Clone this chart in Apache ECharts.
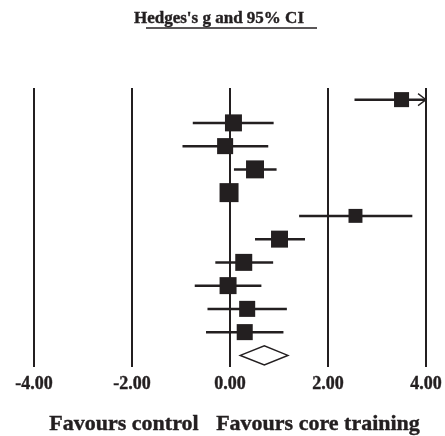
<!DOCTYPE html>
<html>
<head>
<meta charset="utf-8">
<script src="https://cdn.jsdelivr.net/npm/echarts@6/dist/echarts.min.js"></script>
<style>
  html, body { margin: 0; padding: 0; background: #fff; }
  #chart { width: 445px; height: 436px; }
</style>
</head>
<body>
<div id="chart"></div>
<script>
// ===== 数据 =====
const studyNames = ['Study 1', 'Study 2', 'Study 3', 'Study 4', 'Study 5', 'Study 6',
  'Study 7', 'Study 8', 'Study 9', 'Study 10', 'Study 11', 'Overall'];
const hedgesG = [3.50, 0.07, -0.10, 0.51, -0.02, 2.56, 1.01, 0.28, -0.04, 0.35, 0.30];
const ciLower = [2.54, -0.76, -0.97, 0.08, -0.18, 1.41, 0.51, -0.30, -0.72, -0.46, -0.49];
const ciUpper = [4.46, 0.89, 0.78, 0.95, 0.14, 3.72, 1.53, 0.88, 0.64, 1.16, 1.09];
const weights = [7.2, 9.2, 8.2, 10.3, 11.5, 6.2, 9.2, 9.2, 9.2, 8.2, 8.2];
const pooled = { g: 0.70, lower: 0.21, upper: 1.18 };
const xTicks = [-4, -2, 0, 2, 4];

const X_MIN = -4, X_MAX = 4;
const ink = '#231f20';
const serif = '"Liberation Serif", "DejaVu Serif", serif';

const chart = echarts.init(document.getElementById('chart'));

// 每个研究一行：[g, lower, upper, weight, rowIndex]
const studyData = hedgesG.map((g, i) => [g, ciLower[i], ciUpper[i], weights[i], i]);

function renderStudy(params, api) {
  const g = api.value(0);
  const lo = api.value(1);
  const hi = api.value(2);
  const w = api.value(3);
  const row = api.value(4);
  const left = api.coord([Math.max(lo, X_MIN), row]);
  const right = api.coord([Math.min(hi, X_MAX), row]);
  const mid = api.coord([g, row]);
  const side = 5.6 * Math.sqrt(w);
  const children = [{
    type: 'line',
    shape: { x1: left[0], y1: left[1], x2: right[0], y2: right[1] },
    style: { stroke: ink, lineWidth: 2.5 }
  }, {
    type: 'rect',
    shape: { x: mid[0] - side / 2, y: mid[1] - side / 2, width: side, height: side },
    style: { fill: ink }
  }];
  if (hi > X_MAX) {
    // 超出范围 -> 箭头
    children.push({
      type: 'polyline',
      shape: { points: [[right[0] - 8, right[1] - 6], [right[0], right[1]], [right[0] - 8, right[1] + 6]] },
      style: { stroke: ink, lineWidth: 1.3, fill: null }
    });
  }
  return { type: 'group', children: children };
}

function renderDiamond(params, api) {
  const row = api.value(3);
  const l = api.coord([api.value(1), row]);
  const c = api.coord([api.value(0), row]);
  const r = api.coord([api.value(2), row]);
  const h = 9.5;
  return {
    type: 'polygon',
    shape: { points: [[l[0], l[1]], [c[0], c[1] - h], [r[0], r[1]], [c[0], c[1] + h]] },
    style: { fill: '#fff', stroke: ink, lineWidth: 1.5 }
  };
}

chart.setOption({
  animation: false,
  backgroundColor: '#fff',
  grid: { left: 34, right: 18, top: 88, bottom: 69 },
  xAxis: {
    type: 'value',
    min: X_MIN,
    max: X_MAX,
    interval: 2,
    axisLine: { show: false },
    axisTick: { show: false },
    axisLabel: {
      margin: 8,
      color: ink,
      fontFamily: serif,
      fontWeight: 'bold',
      fontSize: 18,
      textBorderColor: ink,
      textBorderWidth: 0.4,
      formatter: v => (xTicks.indexOf(v) >= 0 ? v.toFixed(2) : '')
    },
    splitLine: { show: true, lineStyle: { color: ink, width: 2 } }
  },
  yAxis: {
    type: 'category',
    data: studyNames,
    inverse: true,
    axisLine: { show: false },
    axisTick: { show: false },
    axisLabel: { show: false },
    splitLine: { show: false }
  },
  series: [{
    type: 'custom',
    renderItem: renderStudy,
    data: studyData,
    encode: { x: [0, 1, 2], y: 4 },
    z: 5
  }, {
    type: 'custom',
    renderItem: renderDiamond,
    data: [[pooled.g, pooled.lower, pooled.upper, studyNames.length - 1]],
    encode: { x: [0, 1, 2], y: 3 },
    z: 5
  }],
  graphic: [{
    type: 'text',
    x: 219,
    y: 19,
    style: {
      text: "Hedges's g and 95% CI",
      font: 'bold 17px ' + serif,
      fill: ink,
      stroke: ink,
      lineWidth: 0.4,
      align: 'center',
      verticalAlign: 'middle'
    }
  }, {
    type: 'line',
    shape: { x1: 146, y1: 28, x2: 317, y2: 28 },
    style: { stroke: ink, lineWidth: 1.3 }
  }, {
    type: 'text',
    x: 124,
    y: 424,
    style: {
      text: 'Favours control',
      font: 'bold 22px ' + serif,
      fill: ink,
      stroke: ink,
      lineWidth: 0.4,
      align: 'center',
      verticalAlign: 'middle'
    }
  }, {
    type: 'text',
    x: 318,
    y: 424,
    style: {
      text: 'Favours core training',
      font: 'bold 22px ' + serif,
      fill: ink,
      stroke: ink,
      lineWidth: 0.4,
      align: 'center',
      verticalAlign: 'middle'
    }
  }]
});
</script>
</body>
</html>
